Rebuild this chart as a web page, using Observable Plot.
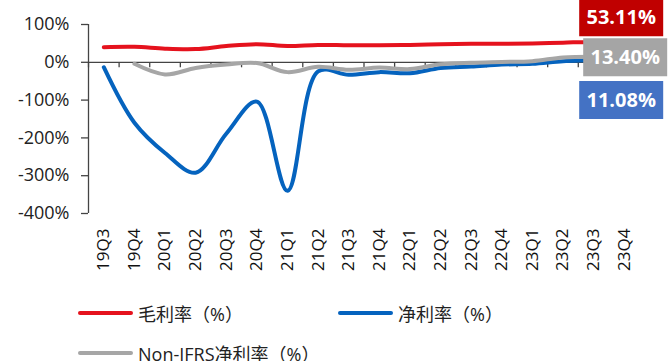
<!DOCTYPE html>
<html>
<head>
<meta charset="utf-8">
<script src="https://cdn.jsdelivr.net/npm/d3@7"></script>
<script src="https://cdn.jsdelivr.net/npm/@observablehq/plot@0.6"></script>
<style>
  body { margin: 0; background: #fff; font-family: "Open Sans", "Noto Sans CJK SC", sans-serif; }
  #chart { position: relative; width: 672px; height: 361px; overflow: hidden; }
  .legend-item { position: absolute; display: flex; align-items: center; font-size: 18px; color: #222; white-space: nowrap; }
  .legend-item .swatch { width: 55px; height: 4px; border-radius: 2px; margin-right: 5px; }
</style>
</head>
<body>
<div id="chart"></div>
<script>
// Quarterly margins, in percent
const quarters = ["19Q3","19Q4","20Q1","20Q2","20Q3","20Q4","21Q1","21Q2","21Q3","21Q4",
                  "22Q1","22Q2","22Q3","22Q4","23Q1","23Q2","23Q3","23Q4"];
const grossMargin   = [40, 41, 36, 35, 43, 48, 43, 46, 45, 45, 46, 48, 49, 49, 50, 52, 54, 53.11];
const netMargin     = [-13, -160, -240, -292, -189, -104, -340, -24, -33, -26, -29, -15, -11, -6, -4, 3, 6, 11.08];
const nonIfrsMargin = [null, -4, -32, -15, -6, -2, -26, -12, -20, -14, -18, -5, -1, 1, 3, 13, 15, 13.40];
const yTicks = [-400, -300, -200, -100, 0, 100];

const series = [
  {key: "毛利率（%）", values: grossMargin, line: "#E5121D", box: "#C00000"},
  {key: "净利率（%）", values: netMargin, line: "#0563BE", box: "#4472C4"},
  {key: "Non-IFRS净利率（%）", values: nonIfrsMargin, line: "#A6A6A6", box: "#A5A5A5"}
];
// offsets (px) of the end-value boxes from their last point
const labelShift = {"毛利率（%）": [-3, -25], "净利率（%）": [-3, 42], "Non-IFRS净利率（%）": [1, 0]};
// lines are stacked in this order (last on top)
const lineOrder = ["毛利率（%）", "净利率（%）", "Non-IFRS净利率（%）"];

const rows = series.flatMap(s => s.values.map((v, i) => ({key: s.key, i, v, color: s.line})));
const boundaries = d3.range(quarters.length + 1).map(k => k - 0.5);

// short downward tick for the category axis at y = 0
const tickDown = {draw(ctx) { ctx.moveTo(0, 0); ctx.lineTo(0, 5); }};
// filled box behind an end-value label
const labelBox = {draw(ctx) { ctx.rect(-42, -19, 84, 38); }};
const axisColor = "#444";

const endLabelMarks = series.flatMap(s => {
  const d = [{i: s.values.length - 1, v: s.values[s.values.length - 1]}];
  const [dx, dy] = labelShift[s.key];
  return [
    Plot.dot(d, {x: "i", y: "v", symbol: labelBox, fill: s.box, stroke: "none", dx, dy}),
    Plot.text(d, {x: "i", y: "v", text: p => p.v.toFixed(2) + "%", dx, dy,
                  fill: "#fff", fontSize: 20, fontWeight: "bold"})
  ];
});

const plot = Plot.plot({
  width: 672,
  height: 290,
  marginLeft: 88,
  marginRight: 33,
  marginTop: 24,
  marginBottom: 77,
  style: {fontFamily: "'Open Sans', 'Noto Sans CJK SC', sans-serif", background: "#fff", overflow: "visible"},
  x: {type: "linear", domain: [-0.5, quarters.length - 0.5], label: null},
  y: {domain: [-400, 100], label: null},
  marks: [
    Plot.axisY({ticks: yTicks, tickFormat: d => d + "%", tickSize: 7, tickPadding: 12,
                fontSize: 18, stroke: axisColor, strokeWidth: 1.3, color: "#222", label: null}),
    Plot.axisX(d3.range(quarters.length), {tickFormat: i => quarters[i], tickRotate: -90,
                tickSize: 0, tickPadding: 15, fontSize: 17, color: "#111", label: null}),
    Plot.ruleX([-0.5], {stroke: axisColor, strokeWidth: 1.3}),
    Plot.ruleY([0], {stroke: axisColor, strokeWidth: 1.3}),
    Plot.dot(boundaries, {x: d => d, y: 0, symbol: tickDown, stroke: axisColor, strokeWidth: 1.3, r: 3}),
    ...lineOrder.map(k => Plot.line(rows.filter(d => d.key === k), {
      x: "i", y: "v", stroke: "color", strokeWidth: 4, curve: "catmull-rom", strokeLinecap: "round"
    })),
    ...endLabelMarks
  ]
});

document.getElementById("chart").appendChild(plot);

// legend below the plot
const legendPos = [[78, 300], [338, 300], [78, 340]];
series.forEach((s, k) => {
  const item = document.createElement("div");
  item.className = "legend-item";
  item.style.left = legendPos[k][0] + "px";
  item.style.top = legendPos[k][1] + "px";
  item.innerHTML = `<span class="swatch" style="background:${s.line}"></span><span>${s.key}</span>`;
  document.getElementById("chart").appendChild(item);
});
</script>
</body>
</html>
